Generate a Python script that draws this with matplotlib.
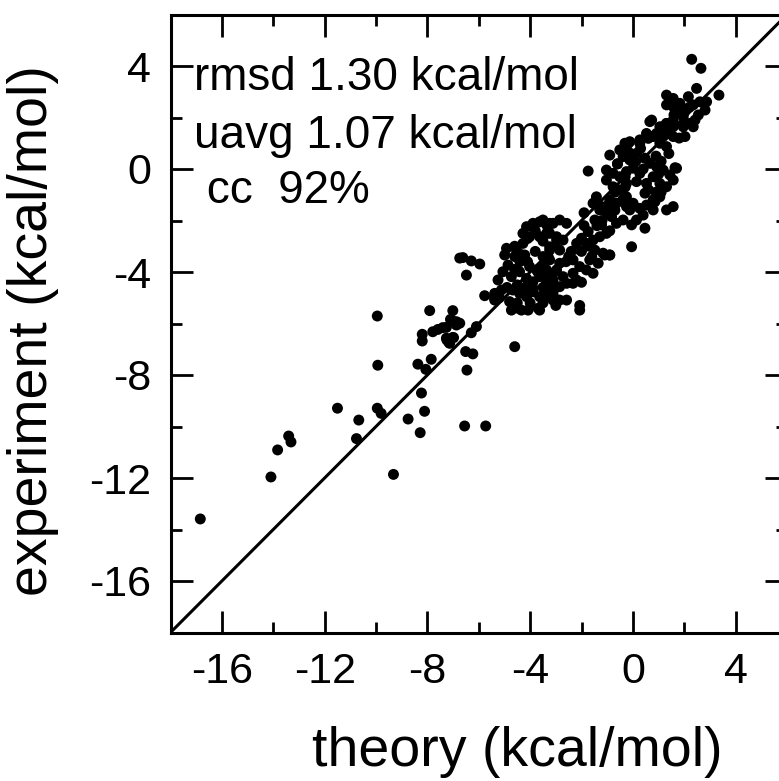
import matplotlib
matplotlib.use("Agg")
import matplotlib.pyplot as plt
from matplotlib.ticker import MultipleLocator

plt.rcParams['font.family'] = ['Liberation Sans', 'DejaVu Sans']
plt.rcParams['axes.unicode_minus'] = False

# theory (x) and experiment (y) values in kcal/mol
theory = [
    -16.84, -14.09, -13.83, -13.40, -13.31, -11.50, -10.67, -10.76, -9.95, -9.93,
    -9.95, -9.80, -9.32, -8.75, -8.28, -8.23, -8.11, -8.37, -8.06, -7.85,
    -8.20, -8.20, -7.91, -7.79, -7.59, -7.40, -7.26, -7.24, -7.16, -6.98,
    -7.01, -7.07, -6.87, -6.74, -7.10, -6.87, -6.74, -7.26, -7.13, -7.01,
    -6.29, -6.09, -6.51, -6.23, -6.46, -6.55, -5.73, -5.38, -6.62, -6.29,
    -5.96, -6.48, -5.77, -5.38, -5.25, -4.99, -4.92, -4.86, -4.53, -4.28,
    -4.21, -4.14, -3.89, -3.63, -3.36, -3.11, -4.28, -4.02, -3.63, -3.24,
    -2.97, -5.06, -4.73, -4.41, -4.14, -3.89, -3.63, -3.36, -3.11, -2.97,
    -4.67, -4.41, -4.14, -3.89, -3.63, -3.36, -3.11, -2.92, -4.80, -4.34,
    -4.08, -3.69, -4.73, -5.12, -5.38, -3.30, -3.24, -3.50, -3.75, -4.02,
    -4.60, -4.40, -4.10, -3.80, -3.50, -1.55, -1.22, -0.96, -0.64, -0.25,
    0.01, 0.27, 0.53, -1.48, -1.22, -0.83, -0.64, -0.38, -0.05, 0.14,
    0.40, 0.47, -0.05, -1.74, -2.00, -2.19, -1.81, -1.55, -1.29, -1.03,
    -1.48, -1.16, -0.90, -1.68, -1.35, -2.33, -2.07, -1.81, -1.55, -2.33,
    -2.85, -2.72, -2.58, -2.85, -2.33, -2.19, -3.11, -3.36, -3.36, -3.11,
    -3.36, -3.11, -2.85, -2.58, -2.07, -3.63, -3.50, -3.24, -2.85, -2.58,
    -3.36, -2.97, -2.72, -3.24, -2.85, -3.50, -3.24, -1.74, -0.90, -0.51,
    -0.18, -0.12, 0.27, 0.66, 0.73, 0.92, 1.18, 1.31, 1.57, -0.38,
    -0.12, 0.14, 0.47, 0.66, 0.92, 1.18, 1.44, -1.03, -0.77, -0.51,
    -0.25, 0.01, 0.27, -1.03, -0.77, -0.51, -0.25, 0.14, 0.53, 0.79,
    1.05, 1.31, 1.57, 0.47, 0.79, 1.05, 1.31, 1.57, -0.25, -0.90,
    -1.42, -1.29, -0.12, 0.79, 2.29, 2.65, 2.48, 3.35, 1.31, 1.57,
    1.31, 1.57, 1.83, 2.16, 2.35, 2.61, 2.87, 2.81, 2.55, 2.42,
    2.22, 1.96, 1.70, 0.73, 0.53, 0.79, 1.05, 1.31, 1.57, 1.44,
    1.18, 1.05, 1.31, 1.57, 1.96, 2.03, 2.35, 0.27, 1.64, 1.70,
    -1.09, -0.90, -0.31, -0.18, 0.60, 0.86, -4.60, -2.07, -1.90, -0.70,
    -2.50, -2.20, -1.90, -0.60, -0.30, 0.90, 1.10, -4.90, -5.20, -4.50,
    -4.50, -4.20, -3.90, -3.50, -3.20, -4.60, -4.40, -3.70, -3.40, -3.00,
    -4.00, -3.50, -3.00, -4.50, -3.80, -3.30, -4.10, -4.60, -2.00, -1.70,
    -1.40, -1.00, -0.70, -0.40, -2.40, -2.60, -2.00, -1.60, -1.20, -0.90,
    -0.60, -0.30, 0.10, 0.40, 0.60, 0.90, 1.10, 1.40, 0.30, 1.00,
    1.60, 2.00, 2.20, 1.80,
]
experiment = [
    -13.59, -11.96, -10.91, -10.37, -10.60, -9.29, -9.75, -10.47, -5.71, -7.62,
    -9.29, -9.49, -11.86, -9.71, -10.24, -8.70, -9.41, -7.58, -7.78, -7.39,
    -6.42, -6.68, -5.50, -6.32, -6.23, -6.16, -6.15, -6.64, -6.74, -6.55,
    -5.50, -5.86, -6.06, -3.46, -5.84, -5.93, -5.99, -6.57, -6.77, -6.54,
    -6.36, -6.12, -7.09, -7.18, -7.81, -9.98, -9.98, -5.09, -3.44, -3.57,
    -3.69, -4.12, -4.92, -5.02, -4.31, -3.34, -3.08, -3.73, -3.15, -2.89,
    -3.34, -2.24, -2.11, -2.05, -2.17, -2.11, -2.50, -2.63, -2.63, -2.50,
    -2.76, -3.99, -4.18, -3.99, -4.25, -4.38, -4.18, -4.44, -4.31, -3.92,
    -4.70, -4.83, -4.96, -4.77, -4.96, -4.89, -4.83, -5.09, -5.15, -5.48,
    -5.48, -5.41, -5.48, -4.70, -4.83, -3.40, -3.15, -3.79, -3.92, -3.79,
    -3.00, -3.30, -3.60, -3.20, -2.80, -1.33, -1.46, -1.40, -1.33, -1.46,
    -1.33, -1.53, -1.40, -1.98, -2.17, -1.85, -2.11, -1.98, -2.17, -1.98,
    -1.79, -2.30, -3.02, -2.43, -2.69, -2.89, -2.89, -2.76, -2.63, -2.50,
    -3.15, -3.27, -3.34, -3.53, -3.66, -3.53, -3.79, -3.92, -4.05, -4.05,
    -3.66, -4.18, -4.44, -4.57, -4.44, -4.31, -4.05, -3.92, -4.44, -4.70,
    -4.96, -5.09, -5.09, -5.09, -5.48, -5.48, -1.98, -2.11, -1.98, -2.11,
    -2.50, -2.63, -2.76, -3.02, -3.15, -3.40, -3.53, -0.08, 0.54, 0.74,
    1.00, 1.06, 1.00, 1.84, 1.26, 1.38, 1.64, 1.77, 1.90, 0.48,
    0.35, 0.61, 0.42, 0.22, 0.09, -0.04, -0.23, -0.04, -0.17, -0.30,
    -0.10, 0.03, -0.17, -0.43, -0.69, -0.82, -0.56, -0.49, -0.56, -0.30,
    -0.56, -0.69, -0.43, -0.94, -1.20, -1.08, -1.59, -1.46, -1.08, -1.20,
    -1.08, -1.59, -1.59, -1.59, 4.26, 3.91, 3.13, 2.87, 2.87, 2.74,
    2.49, 2.42, 2.55, 2.81, 2.49, 2.61, 2.61, 2.29, 2.10, 1.90,
    1.77, 2.03, 2.29, 1.90, 1.38, 1.26, 1.64, 1.77, 1.64, 1.38,
    1.26, 1.00, 0.87, 1.26, 1.64, 1.26, 1.64, 1.13, 0.05, 0.03,
    -3.34, -3.34, 1.00, 0.67, 1.19, -1.27, -6.90, -5.30, -2.20, -0.90,
    -3.40, -3.10, -1.70, 0.20, -0.70, 0.50, -0.90, -4.60, -5.00, -5.40,
    -4.50, -4.60, -4.60, -4.60, -4.60, -3.90, -3.60, -4.00, -4.10, -4.60,
    -5.20, -5.20, -5.30, -5.20, -2.40, -2.40, -2.70, -3.40, -3.20, -3.00,
    -2.20, -1.70, -1.60, -1.20, -3.20, -3.60, -4.40, -3.40, -2.00, -2.40,
    0.20, -0.30, 0.30, 0.00, -0.80, -0.90, 0.30, 0.60, 0.80, -0.20,
    2.10, 2.20, 2.40, 1.20,
]

stats_lines = ["rmsd 1.30 kcal/mol", "uavg 1.07 kcal/mol", " cc  92%"]
x_label = "theory (kcal/mol)"
y_label = "experiment (kcal/mol)"
lim = (-18, 6)

W, H = 779, 781
fig = plt.figure(figsize=(W / 100, H / 100), dpi=100)
left, right, top, bottom = 170.5, 787.0, 14.5, 632.5
ax = fig.add_axes([left / W, 1 - bottom / H, (right - left) / W, (bottom - top) / H])

ax.plot(lim, lim, color='black', lw=2.2, zorder=1)
ax.scatter(theory, experiment, s=62, color='black', edgecolors='none', zorder=2)

ax.set_xlim(*lim)
ax.set_ylim(*lim)
for sp in ax.spines.values():
    sp.set_linewidth(2.2)

ax.xaxis.set_minor_locator(MultipleLocator(2))
ax.yaxis.set_minor_locator(MultipleLocator(2))
ax.set_xticks([-16, -12, -8, -4, 0, 4])
ax.set_yticks([-16, -12, -8, -4, 0, 4])
ax.tick_params(which='both', direction='in', top=True, right=True, width=2.0,
               labelsize=31, colors='black')
ax.tick_params(which='major', length=16, pad=14)
ax.tick_params(which='minor', length=8)

ys_text = [3.07, 0.82, -1.32]
for t, yv in zip(stats_lines, ys_text):
    ax.text(-17.1, yv, t, fontsize=33, ha='left', va='baseline')

fig.text(517 / W, 1 - 752 / H, x_label, fontsize=40, ha='center', va='center')
fig.text(33 / W, 1 - 331 / H, y_label, fontsize=40, ha='center', va='center', rotation=90)

fig.savefig("out.png", dpi=100)
